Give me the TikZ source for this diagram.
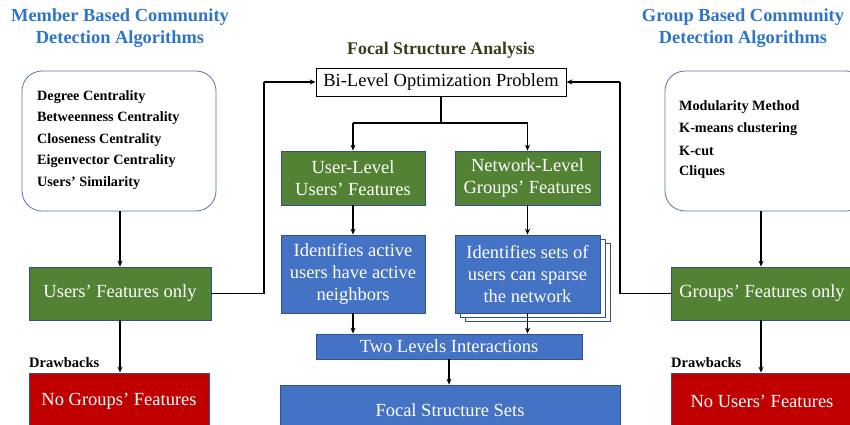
\documentclass[tikz,border=0pt]{standalone}
\usepackage{fontspec}
\setmainfont{Liberation Serif}
\usetikzlibrary{arrows.meta}
\definecolor{tblue}{HTML}{2E75C8}
\definecolor{olive}{HTML}{3B3B1E}
\definecolor{gfill}{HTML}{548235}
\definecolor{bfill}{HTML}{4472C4}
\definecolor{bord}{HTML}{2F528F}
\definecolor{rfill}{HTML}{C00000}
\begin{document}
\begin{tikzpicture}[x=1pt,y=-1pt,
  box/.style={draw=bord, line width=0.8pt, text=white, align=center, inner sep=0pt, font=\fontsize{18.5}{22}\selectfont},
  gbox/.style={box, fill=gfill},
  bbox/.style={box, fill=bfill},
  rbox/.style={box, fill=rfill},
  rbx/.style={draw=bord!80, line width=0.8pt, rounded corners=20pt, fill=white},
  ttl/.style={text=tblue, font=\bfseries\fontsize{18.4}{21.5}\selectfont, align=center},
  itm/.style={anchor=west, font=\bfseries\fontsize{14.2}{16}\selectfont, inner sep=0pt},
  arr/.style={line width=1.8pt, -{Stealth[length=6pt,width=5pt]}},
  ln/.style={line width=1.8pt}
]
\useasboundingbox (0,0) rectangle (850,425);
% titles
\node[ttl] (tl) at (120,28) {Member Based Community\\Detection Algorithms};
\node[ttl] (tr) at (743,28) {Group Based Community\\Detection Algorithms};
\node[text=olive, font=\bfseries\fontsize{17.8}{20}\selectfont] (fsa) at (441,50) {Focal Structure Analysis};
% rounded boxes
\draw[rbx] (22,71) rectangle (216,211);
\node[itm] (l1) at (37,97) {Degree Centrality};
\node[itm] (l2) at (37,118) {Betweenness Centrality};
\node[itm] (l3) at (37,140) {Closeness Centrality};
\node[itm] (l4) at (37,161) {Eigenvector Centrality};
\node[itm] (l5) at (37,183) {Users’ Similarity};
\draw[rbx] (665,71) rectangle (866,211);
\node[itm] (r1) at (679,107) {Modularity Method};
\node[itm] (r2) at (679,129) {K-means clustering};
\node[itm] (r3) at (679,151) {K-cut};
\node[itm] (r4) at (679,172) {Cliques};
% Bi-level
\node[draw=black, line width=0.8pt, fill=white, minimum width=250pt, minimum height=28pt, inner sep=0pt, font=\fontsize{18.5}{22}\selectfont] (bi) at (441,82) {Bi-Level Optimization Problem};
% green middle
\node[gbox, minimum width=144pt, minimum height=54pt] (ul) at (353,178) {User-Level\\Users’ Features};
\node[gbox, minimum width=145pt, minimum height=54pt] (nl) at (527.5,178) {Network-Level\\Groups’ Features};
% blue middle
\node[bbox, minimum width=144pt, minimum height=78pt] (ia) at (353,274) {Identifies active\\users have active\\neighbors};
\node[draw=bord, line width=0.8pt, fill=white, minimum width=145pt, minimum height=78pt] (s2) at (537.5,282) {};
\node[draw=bord, line width=0.8pt, fill=white, minimum width=145pt, minimum height=78pt] (s1) at (532.5,278) {};
\node[bbox, minimum width=145pt, minimum height=78pt] (is) at (527.5,274) {Identifies sets of\\users can sparse\\the network};
\node[bbox, minimum width=266pt, minimum height=25pt] (tli) at (449,346.5) {Two Levels Interactions};
\node[bbox, minimum width=340pt, minimum height=50pt] (fss) at (450,410) {Focal Structure Sets};
% left column
\node[gbox, minimum width=182pt, minimum height=53pt] (ugo) at (120,293.5) {Users’ Features only};
\node[rbox, minimum width=180pt, minimum height=56pt] (ngf) at (119,401) {No Groups’ Features};
\node[anchor=south west, inner sep=0pt, font=\bfseries\fontsize{14.5}{16}\selectfont] (dl) at (29,368) {Drawbacks};
% right column
\node[gbox, minimum width=182pt, minimum height=53pt] (ggo) at (762,293.5) {Groups’ Features only};
\node[rbox, minimum width=182pt, minimum height=56pt] (nuf) at (762,401) {No Users’ Features};
\node[anchor=south west, inner sep=0pt, font=\bfseries\fontsize{14.5}{16}\selectfont] (dr) at (671,368) {Drawbacks};
% coordinates
\coordinate (split) at (441,123);
\coordinate (sl) at (353,123);
\coordinate (sr) at (527.5,123);
\coordinate (lc) at (264,293.5);
\coordinate (lt) at (264,82);
\coordinate (rc) at (620,293.5);
\coordinate (rt) at (620,82);
\coordinate (lb) at (120,211);
\coordinate (rb) at (761,211);
% connectors
\draw[ln] (bi.south) -- (split);
\draw[ln] (sl) -- (sr);
\draw[arr] (sl) -- (ul.north);
\draw[arr] (sr) -- (nl.north);
\draw[arr] (ul.south) -- (ia.north);
\draw[arr] (nl.south) -- (is.north);
\draw[arr] (ia.south) -- (ia.south |- tli.north);
\draw[arr] (is.south) -- (is.south |- tli.north);
\draw[arr] (tli.south) -- (tli.south |- fss.north);
\draw[arr] (lb) -- (lb |- ugo.north);
\draw[arr] (lb |- ugo.south) -- (lb |- ngf.north);
\draw[ln] (ugo.east) -- (lc) -- (lt);
\draw[arr] (lt) -- (bi.west);
\draw[arr] (rb) -- (rb |- ggo.north);
\draw[arr] (rb |- ggo.south) -- (rb |- nuf.north);
\draw[ln] (ggo.west) -- (rc) -- (rt);
\draw[arr] (rt) -- (bi.east);
\end{tikzpicture}
\end{document}
